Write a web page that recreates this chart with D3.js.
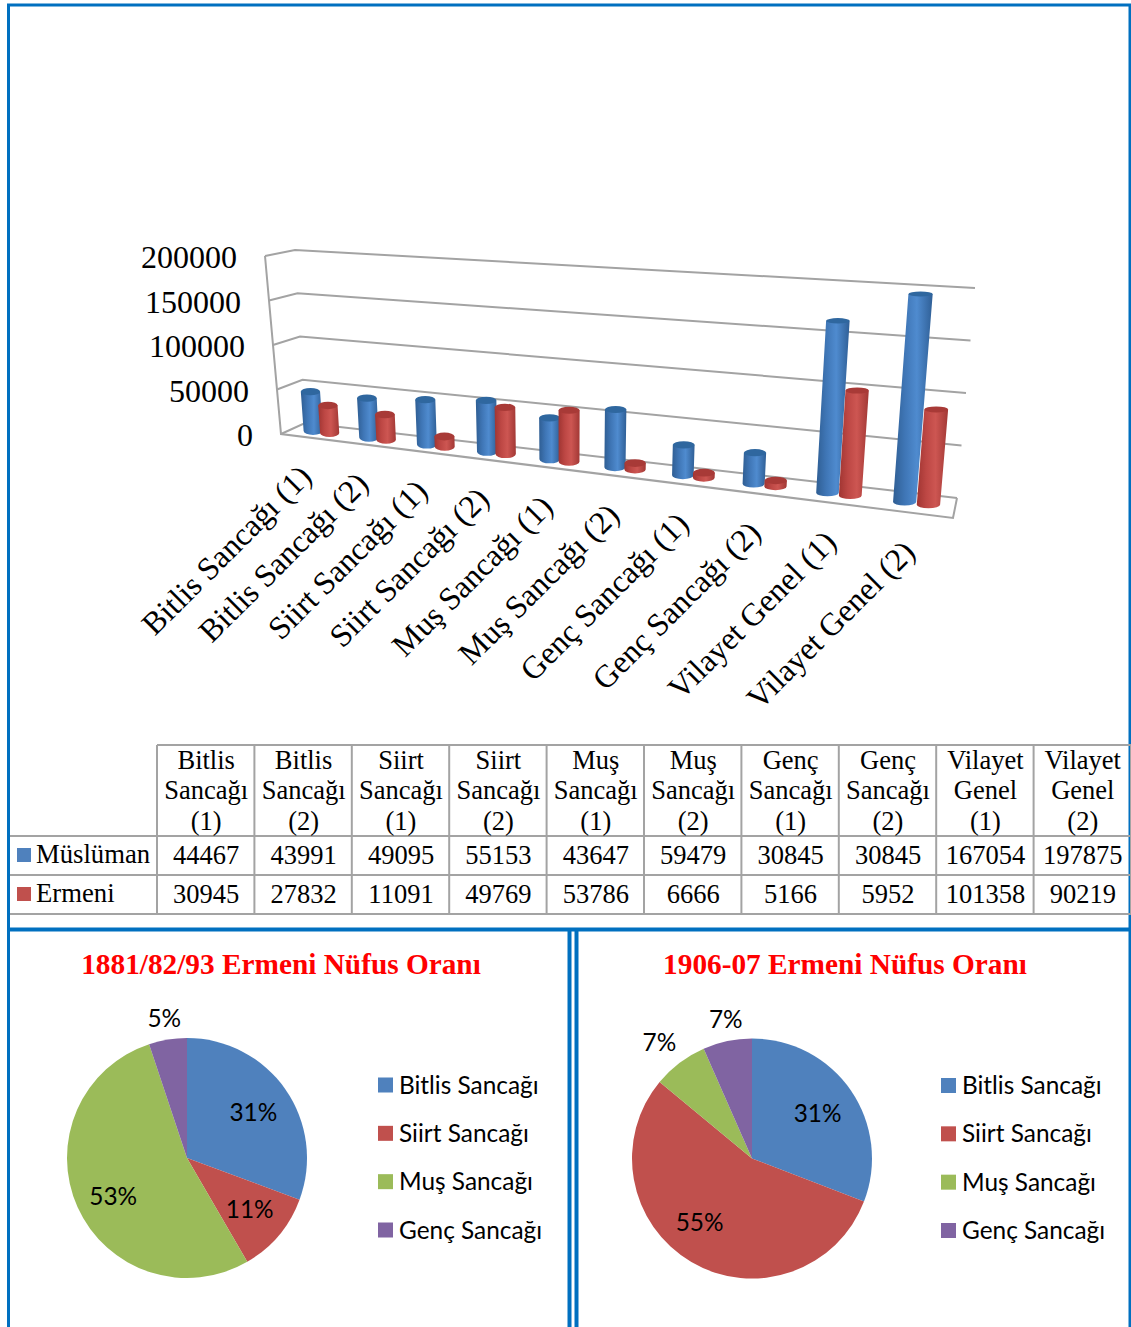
<!DOCTYPE html>
<html>
<head>
<meta charset="utf-8">
<style>
  html, body { margin: 0; padding: 0; background: #fff; }
  svg { display: block; }
  .serif { font-family: "Liberation Serif", serif; fill: #000; }
  .sans { font-family: "Lato", sans-serif; fill: #000; }
</style>
</head>
<body>
<svg width="1131" height="1327"></svg>
<script src="https://d3js.org/d3.v7.min.js"></script>
<script>

// chart data
var categories = ['Bitlis Sancağı (1)', 'Bitlis Sancağı (2)', 'Siirt Sancağı (1)', 'Siirt Sancağı (2)', 'Muş Sancağı (1)',
  'Muş Sancağı (2)', 'Genç Sancağı (1)', 'Genç Sancağı (2)', 'Vilayet Genel (1)', 'Vilayet Genel (2)']
var headerLines = [['Bitlis', 'Sancağı', '(1)'], ['Bitlis', 'Sancağı', '(2)'], ['Siirt', 'Sancağı', '(1)'], ['Siirt', 'Sancağı', '(2)'],
  ['Muş', 'Sancağı', '(1)'], ['Muş', 'Sancağı', '(2)'], ['Genç', 'Sancağı', '(1)'], ['Genç', 'Sancağı', '(2)'],
  ['Vilayet', 'Genel', '(1)'], ['Vilayet', 'Genel', '(2)']]
var muslim = [44467, 43991, 49095, 55153, 43647, 59479, 30845, 30845, 167054, 197875]
var armenian = [30945, 27832, 11091, 49769, 53786, 6666, 5166, 5952, 101358, 90219]
var valueTicks = [0, 50000, 100000, 150000, 200000]

var regions = ['Bitlis Sancağı', 'Siirt Sancağı', 'Muş Sancağı', 'Genç Sancağı']
var pie1Values = [30945, 11091, 53786, 5166]
var pie2Values = [27832, 49769, 6666, 5952]
var pie1Title = '1881/82/93 Ermeni Nüfus Oranı'
var pie2Title = '1906-07 Ermeni Nüfus Oranı'
var pieColors = ['#4f81bd', '#c0504d', '#9bbb59', '#8064a2']

var svg = d3.select('svg')
var frameColor = '#0070c0'
var gridColor = '#a3a3a3'

// ---- frame ----
var frame = svg.append('g').attr('stroke', frameColor).attr('fill', 'none')
frame.append('path').attr('d', 'M8.5,1327V5H1130V1327').attr('stroke-width', 3)
frame.append('path').attr('d', 'M8,929.5H1131').attr('stroke-width', 4)
frame.append('path').attr('d', 'M569.5,930V1327M576.5,930V1327').attr('stroke-width', 4)

// ---- 3d column chart ----
// each corner of the box is a pair of scales over the value domain
var maxValue = 200000
function edge(x0, x1, y0, y1) {
  return {
    x: d3.scaleLinear().domain([0, maxValue]).range([x0, x1]),
    y: d3.scaleLinear().domain([0, maxValue]).range([y0, y1])
  }
}
var frontLeft = edge(281, 265, 434, 256)
var frontRight = edge(953, 972, 518, 302)
var backLeft = edge(305, 295, 423, 250)
var backRight = edge(957, 975, 498, 288)

// perspective squeeze along the category axis
var squeeze = 0.225
var catScale = d3.scaleLinear().domain([0, categories.length]).range([0, 1])
function catPos(c) {
  var t = catScale(c)
  return t / (1 + squeeze * (1 - t))
}

// c = category position, v = value, w = depth (0 front, 1 back)
function project(c, v, w) {
  var t = catPos(c)
  var fx = d3.interpolateNumber(frontLeft.x(v), frontRight.x(v))(t)
  var fy = d3.interpolateNumber(frontLeft.y(v), frontRight.y(v))(t)
  var bx = d3.interpolateNumber(backLeft.x(v), backRight.x(v))(t)
  var by = d3.interpolateNumber(backLeft.y(v), backRight.y(v))(t)
  return [fx + (bx - fx) * w, fy + (by - fy) * w]
}

var n = categories.length
var walls = svg.append('g').attr('fill', 'none').attr('stroke', gridColor).attr('stroke-width', 2)
valueTicks.forEach(function (v) {
  walls.append('path').attr('d', d3.line()([project(0, v, 0), project(0, v, 1), project(n, v, 1)]))
})
walls.append('path').attr('d', d3.line()([project(0, maxValue, 0), project(0, 0, 0), project(n, 0, 0), project(n, 0, 1)]))

var defs = svg.append('defs')
function gradient(id, stops) {
  var g = defs.append('linearGradient').attr('id', id)
  stops.forEach(function (s) {
    g.append('stop').attr('offset', s[0]).attr('stop-color', s[1])
  })
}
gradient('blueSide', [[0, '#2f5e93'], [0.3, '#3f76b6'], [0.6, '#4f8bcf'], [1, '#2f5f96']])
gradient('redSide', [[0, '#a03532'], [0.3, '#bd4744'], [0.6, '#cd5652'], [1, '#a23835']])

// bars look a little slimmer and flatter towards the right of the box
var barHalf = d3.scaleLinear().domain([0, n]).range([0.175, 0.145])
var barDepth = d3.scaleLinear().domain([0, n]).range([0.36, 0.17])
var barW = 0.5

function drawBars(values, shift, sideFill, topFill) {
  var g = svg.append('g')
  values.forEach(function (v, i) {
    var c = i + 0.5 + shift
    var half = barHalf(c)
    var depth = barDepth(c)
    var t = project(c, v, barW)
    var b = project(c, 0, barW)
    var rxT = (project(c + half, v, barW)[0] - project(c - half, v, barW)[0]) / 2
    var rxB = (project(c + half, 0, barW)[0] - project(c - half, 0, barW)[0]) / 2
    var ryT = Math.abs(project(c, v, barW - depth)[1] - project(c, v, barW + depth)[1]) / 2
    var ryB = Math.abs(project(c, 0, barW - depth)[1] - project(c, 0, barW + depth)[1]) / 2
    g.append('path')
      .attr('fill', sideFill)
      .attr('d', 'M' + (t[0] - rxT) + ',' + t[1] + 'L' + (b[0] - rxB) + ',' + b[1] +
        'A' + rxB + ',' + ryB + ' 0 0 0 ' + (b[0] + rxB) + ',' + b[1] +
        'L' + (t[0] + rxT) + ',' + t[1] + 'Z')
    g.append('ellipse')
      .attr('cx', t[0]).attr('cy', t[1]).attr('rx', rxT).attr('ry', Math.max(ryT, 2))
      .attr('fill', topFill)
  })
}
drawBars(muslim, -0.13, 'url(#blueSide)', '#2f679f')
drawBars(armenian, 0.17, 'url(#redSide)', '#a83a37')

// value labels sit left of the front edge
svg.append('g').selectAll('text')
  .data(valueTicks)
  .enter().append('text')
  .attr('class', 'serif')
  .attr('font-size', 32)
  .attr('text-anchor', 'end')
  .attr('dy', '0.36em')
  .attr('x', function (v) { return project(0, v, 0)[0] - 28 })
  .attr('y', function (v) { return project(0, v, 0)[1] + 0.5 })
  .text(function (v) { return v })

// slanted category labels
svg.append('g').selectAll('text')
  .data(categories)
  .enter().append('text')
  .attr('class', 'serif')
  .attr('font-size', 32)
  .attr('text-anchor', 'end')
  .attr('transform', function (d, i) {
    var p = project(i + 0.5, 0, 0)
    return 'translate(' + (p[0] + 4.5) + ',' + (p[1] + 41) + ') rotate(-45)'
  })
  .text(function (d) { return d })

// ---- data table ----
var colX = d3.scaleBand().domain(d3.range(n)).range([157, 1131])
var rowY = d3.scaleOrdinal().domain(['head', 'muslim', 'armenian', 'end']).range([745, 836, 875, 914])
var table = svg.append('g')
var tableLines = table.append('g').attr('stroke', gridColor).attr('stroke-width', 2)
d3.range(n + 1).forEach(function (i) {
  var x = i < n ? colX(i) : 1131
  tableLines.append('line').attr('x1', x).attr('x2', x).attr('y1', 745).attr('y2', 914)
})
rowY.domain().forEach(function (r) {
  tableLines.append('line')
    .attr('x1', r === 'head' ? 157 : 10).attr('x2', 1131)
    .attr('y1', rowY(r)).attr('y2', rowY(r))
})

headerLines.forEach(function (lines, i) {
  lines.forEach(function (line, j) {
    table.append('text')
      .attr('class', 'serif')
      .attr('font-size', 26.5)
      .attr('text-anchor', 'middle')
      .attr('x', colX(i) + colX.bandwidth() / 2 + 0.5)
      .attr('y', rowY('head') + 24 + j * 30.3)
      .text(line)
  })
})

function tableRow(key, label, values, color) {
  var y = rowY(key) + 28
  table.append('rect')
    .attr('x', 17).attr('y', rowY(key) + 12).attr('width', 14).attr('height', 14)
    .attr('fill', color)
  table.append('text')
    .attr('class', 'serif').attr('font-size', 26.7)
    .attr('x', 36).attr('y', y - 1)
    .text(label)
  values.forEach(function (v, i) {
    table.append('text')
      .attr('class', 'serif').attr('font-size', 26.5)
      .attr('text-anchor', 'middle')
      .attr('x', colX(i) + colX.bandwidth() / 2 + 0.5)
      .attr('y', y)
      .text(v)
  })
}
tableRow('muslim', 'Müslüman', muslim, '#4f81bd')
tableRow('armenian', 'Ermeni', armenian, '#c0504d')

// ---- pies ----
var pieLayout = d3.pie().sort(null).value(function (d) { return d })

function drawPie(values, title, cx, cy, titleX, legendX, nudge) {
  var radius = 120
  var g = svg.append('g')
  var slices = pieLayout(values)
  var total = d3.sum(values)
  var arc = d3.arc().innerRadius(0).outerRadius(radius)
  g.selectAll('path')
    .data(slices)
    .enter().append('path')
    .attr('transform', 'translate(' + cx + ',' + cy + ')')
    .attr('d', arc)
    .attr('fill', function (d, i) { return pieColors[i] })

  // big slices are labelled inside, small ones outside
  g.selectAll('text.pct')
    .data(slices)
    .enter().append('text')
    .attr('class', 'sans pct')
    .attr('font-size', 24.4)
    .attr('text-anchor', 'middle')
    .attr('dy', '0.35em')
    .attr('x', function (d, i) {
      var r = d.value / total > 0.1 ? 82 : 142
      return cx + r * Math.sin((d.startAngle + d.endAngle) / 2) + nudge[i][0]
    })
    .attr('y', function (d, i) {
      var r = d.value / total > 0.1 ? 82 : 142
      return cy - r * Math.cos((d.startAngle + d.endAngle) / 2) + nudge[i][1]
    })
    .text(function (d) { return Math.round(d.value / total * 100) + '%' })

  svg.append('text')
    .attr('class', 'serif')
    .attr('font-size', 29.3)
    .attr('font-weight', 'bold')
    .attr('text-anchor', 'middle')
    .style('fill', '#ff0000')
    .attr('x', titleX)
    .attr('y', 974)
    .text(title)

  var legendY = d3.scalePoint().domain(regions).range([cy - 73, cy + 72])
  regions.forEach(function (r, i) {
    svg.append('rect')
      .attr('x', legendX).attr('y', legendY(r) - 7.5).attr('width', 15).attr('height', 15)
      .attr('fill', pieColors[i])
    svg.append('text')
      .attr('class', 'sans')
      .attr('font-size', 24.4)
      .attr('dy', '0.35em')
      .attr('x', legendX + 21)
      .attr('y', legendY(r))
      .text(r)
  })
}
drawPie(pie1Values, pie1Title, 187, 1158, 281, 378, [[-1, 1], [0, -1], [1, 5], [0, 1]])
drawPie(pie2Values, pie2Title, 752, 1158.5, 845, 941, [[-2, 1], [-11, -7], [-7, -3], [3, 0]])

</script>
</body>
</html>
